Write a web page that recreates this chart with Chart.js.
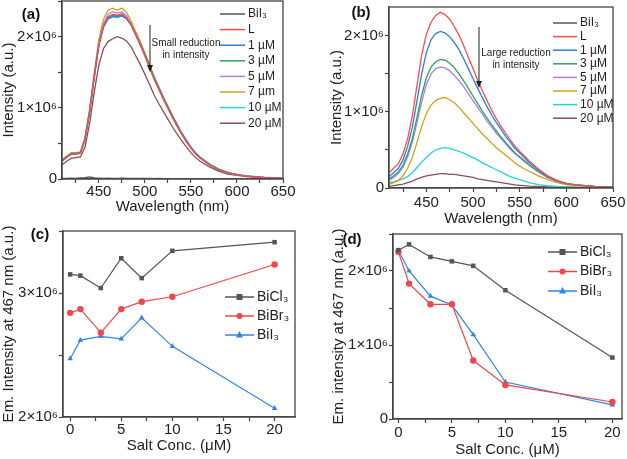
<!DOCTYPE html>
<html>
<head>
<meta charset="utf-8">
<script src="https://cdn.jsdelivr.net/npm/chart.js@4.4.1/dist/chart.umd.min.js"></script>
<style>
  body { margin: 0; background: #fff; }
  #wrap { position: relative; width: 627px; height: 459px; background: #fff; }
  canvas { position: absolute; }
</style>
</head>
<body>
<div id="wrap">
  <canvas id="chartA" width="310" height="216" style="left:0;top:0"></canvas>
  <canvas id="chartB" width="317" height="228" style="left:310px;top:0"></canvas>
  <canvas id="chartC" width="310" height="247" style="left:0;top:212px"></canvas>
  <canvas id="chartD" width="317" height="233" style="left:310px;top:226px"></canvas>
</div>
<script>
// ---- data (intensities in units of 10^6) ----
const wavelength = [410,415,420,425,430,435,440,445,450,455,460,465,470,475,480,485,490,495,500,505,510,515,520,525,530,535,540,545,550,555,560,570,580,590,600,610,620,630,640,650];

const labelsA = ['BiI₃', 'L', '1 µM', '3 µM', '5 µM', '7 µm', '10 µM', '20 µM'];
const labelsB = ['BiI₃', 'L', '1 µM', '3 µM', '5 µM', '7 µM', '10 µM', '20 µM'];
const spectraColors = ['#555555', '#ff4b4b', '#2e7de0', '#2ca25f', '#b27ee6', '#d4a017', '#22d3dd', '#8c4f4f'];

// (a) small reduction
const aBiI3 = [0.01,0.01,0.012,0.01,0.015,0.02,0.03,0.015,0.012,0.01,0.012,0.01,0.01,0.012,0.01,0.01,0.008,0.01,0.008,0.008,0.006,0.008,0.006,0.006,0.005,0.006,0.005,0.005,0.004,0.005,0.004,0.004,0.004,0.003,0.003,0.003,0.003,0.003,0.003,0.003];
const aL    = [0.25,0.30,0.35,0.35,0.36,0.55,0.93,1.42,1.88,2.15,2.28,2.31,2.30,2.32,2.27,2.17,2.03,1.89,1.73,1.57,1.40,1.26,1.12,0.99,0.86,0.74,0.63,0.52,0.43,0.35,0.29,0.20,0.13,0.085,0.06,0.04,0.03,0.02,0.015,0.01];
const a1    = [0.26,0.31,0.35,0.35,0.37,0.56,0.94,1.43,1.87,2.13,2.25,2.28,2.27,2.29,2.25,2.16,2.02,1.88,1.73,1.57,1.41,1.27,1.13,1.00,0.87,0.75,0.64,0.53,0.44,0.36,0.30,0.20,0.13,0.09,0.06,0.04,0.03,0.02,0.015,0.01];
const a3    = [0.26,0.31,0.36,0.36,0.37,0.57,0.95,1.44,1.89,2.15,2.27,2.30,2.29,2.30,2.26,2.17,2.04,1.90,1.75,1.59,1.42,1.28,1.14,1.01,0.88,0.76,0.64,0.54,0.44,0.36,0.30,0.21,0.14,0.09,0.06,0.04,0.03,0.02,0.015,0.01];
const a5    = [0.25,0.31,0.35,0.36,0.37,0.56,0.95,1.45,1.91,2.18,2.31,2.35,2.33,2.35,2.29,2.18,2.04,1.90,1.74,1.58,1.41,1.27,1.13,1.00,0.87,0.75,0.63,0.53,0.44,0.36,0.30,0.20,0.13,0.09,0.06,0.04,0.03,0.02,0.015,0.01];
const a7    = [0.27,0.32,0.37,0.37,0.38,0.58,0.98,1.49,1.96,2.24,2.37,2.40,2.37,2.40,2.34,2.22,2.07,1.93,1.77,1.61,1.44,1.29,1.15,1.02,0.89,0.76,0.65,0.54,0.45,0.37,0.30,0.21,0.14,0.09,0.06,0.04,0.03,0.02,0.015,0.01];
const a10   = [0.26,0.31,0.36,0.36,0.37,0.57,0.96,1.45,1.89,2.14,2.25,2.28,2.28,2.29,2.26,2.17,2.05,1.91,1.76,1.60,1.44,1.30,1.15,1.02,0.89,0.77,0.65,0.55,0.45,0.37,0.31,0.21,0.14,0.09,0.06,0.045,0.035,0.025,0.02,0.015];
const a20   = [0.20,0.25,0.29,0.30,0.31,0.45,0.78,1.22,1.60,1.83,1.93,1.97,2.00,1.98,1.94,1.86,1.73,1.61,1.47,1.33,1.18,1.06,0.95,0.84,0.73,0.63,0.54,0.45,0.37,0.30,0.25,0.17,0.11,0.07,0.05,0.035,0.025,0.02,0.015,0.01];

// (b) large reduction
const bBiI3 = [0.005,0.006,0.005,0.006,0.005,0.006,0.006,0.005,0.006,0.005,0.006,0.005,0.006,0.005,0.005,0.006,0.005,0.005,0.004,0.005,0.004,0.005,0.004,0.004,0.004,0.004,0.003,0.004,0.003,0.003,0.003,0.003,0.003,0.003,0.003,0.003,0.003,0.003,0.003,0.003];
const bL    = [0.20,0.26,0.32,0.45,0.65,0.95,1.35,1.75,2.02,2.18,2.27,2.31,2.28,2.22,2.12,2.01,1.87,1.72,1.57,1.42,1.28,1.15,1.02,0.91,0.81,0.72,0.63,0.55,0.48,0.42,0.36,0.25,0.16,0.10,0.06,0.04,0.03,0.02,0.015,0.01];
const b1    = [0.15,0.20,0.26,0.37,0.55,0.80,1.15,1.50,1.78,1.95,2.03,2.06,2.04,1.99,1.91,1.82,1.70,1.57,1.44,1.31,1.19,1.07,0.96,0.86,0.77,0.68,0.60,0.52,0.46,0.40,0.34,0.24,0.15,0.095,0.06,0.04,0.03,0.02,0.015,0.01];
const b3    = [0.12,0.16,0.21,0.30,0.45,0.65,0.93,1.22,1.45,1.59,1.66,1.69,1.68,1.64,1.58,1.50,1.41,1.31,1.21,1.11,1.01,0.92,0.83,0.75,0.67,0.60,0.53,0.46,0.41,0.36,0.31,0.22,0.14,0.09,0.055,0.04,0.03,0.02,0.015,0.01];
const b5    = [0.10,0.14,0.19,0.27,0.41,0.60,0.86,1.13,1.36,1.50,1.57,1.59,1.58,1.54,1.48,1.41,1.33,1.24,1.15,1.06,0.97,0.88,0.80,0.72,0.65,0.58,0.51,0.45,0.40,0.35,0.30,0.21,0.14,0.09,0.055,0.04,0.03,0.02,0.015,0.01];
const b7    = [0.05,0.07,0.10,0.16,0.26,0.40,0.60,0.81,0.98,1.09,1.15,1.18,1.19,1.16,1.12,1.06,0.99,0.92,0.85,0.78,0.71,0.65,0.59,0.53,0.48,0.43,0.38,0.33,0.29,0.25,0.22,0.16,0.11,0.07,0.045,0.03,0.02,0.015,0.01,0.01];
const b10   = [0.07,0.08,0.10,0.12,0.15,0.20,0.27,0.34,0.40,0.46,0.50,0.52,0.53,0.52,0.50,0.48,0.46,0.43,0.40,0.37,0.33,0.30,0.27,0.24,0.21,0.18,0.15,0.13,0.11,0.09,0.07,0.045,0.03,0.02,0.015,0.01,0.008,0.006,0.005,0.005];
const b20   = [0.02,0.03,0.04,0.05,0.07,0.09,0.12,0.14,0.16,0.17,0.18,0.19,0.19,0.18,0.18,0.17,0.16,0.15,0.14,0.12,0.11,0.10,0.09,0.08,0.07,0.06,0.05,0.04,0.035,0.03,0.025,0.02,0.015,0.01,0.01,0.008,0.006,0.005,0.005,0.005];

// (c), (d) intensity at 467 nm vs salt concentration
const saltConc = [0, 1, 3, 5, 7, 10, 20];
const saltLabels = ['BiCl₃', 'BiBr₃', 'BiI₃'];
const saltColors = ['#555555', '#f04848', '#2f86e8'];
const saltMarkers = ['rect', 'circle', 'triangle'];
const cBiCl3 = [3.15, 3.14, 3.04, 3.28, 3.12, 3.34, 3.41];
const cBiBr3 = [2.84, 2.87, 2.68, 2.87, 2.93, 2.97, 3.23];
const cBiI3  = [2.47, 2.62, 2.65, 2.63, 2.80, 2.57, 2.07];
const dBiCl3 = [2.28, 2.36, 2.19, 2.13, 2.07, 1.74, 0.83];
const dBiBr3 = [2.26, 1.83, 1.55, 1.55, 0.79, 0.46, 0.23];
const dBiI3  = [2.28, 2.00, 1.66, 1.54, 1.14, 0.50, 0.19];

Chart.defaults.font.family = '"Liberation Sans", Arial, sans-serif';
Chart.defaults.color = '#222';

function sci(v) { return v === 0 ? '0' : v + '×10⁶'; }

function axis(o) {
  return {
    type: 'linear', min: o.min, max: o.max,
    border: { display: true, color: '#444', width: 1.3 },
    grid: { drawOnChartArea: false, drawTicks: true, tickLength: 4, tickColor: '#444', tickWidth: 1.2 },
    ticks: {
      stepSize: o.step, includeBounds: false, autoSkip: false, maxRotation: 0,
      padding: o.pad, color: '#222', font: { size: 15 },
      callback: o.label
    },
    title: { display: true, text: o.title, color: '#222', font: { size: 15 }, padding: o.titlePad },
    afterFit: s => {
      // fixed axis band, no extra room for overhanging labels
      if (s.isHorizontal()) { s.height = o.size; s.paddingLeft = 0; s.paddingRight = 0; }
      else { s.width = o.size; s.paddingTop = 0; s.paddingBottom = 0; }
    }
  };
}

// frame, panel tag, note with arrow and in-plot legend
const panelDeco = {
  id: 'panelDeco',
  afterDraw(chart, args, o) {
    const ctx = chart.ctx, a = chart.chartArea;
    ctx.save();
    ctx.strokeStyle = '#444';
    ctx.lineWidth = 1.3;
    ctx.strokeRect(a.left, a.top, a.right - a.left, a.bottom - a.top);

    ctx.fillStyle = '#111';
    ctx.textBaseline = 'middle';
    ctx.textAlign = 'center';
    ctx.font = 'bold 15px "Liberation Sans", Arial, sans-serif';
    ctx.fillText(o.tag[0], o.tag[1], o.tag[2]);

    if (o.note) {
      ctx.font = '10px "Liberation Sans", Arial, sans-serif';
      ctx.fillStyle = '#222';
      o.note.lines.forEach((t, i) => ctx.fillText(t, o.note.x, o.note.y + i * 12.5));
      const [ax, y1, y2] = o.note.arrow;
      ctx.strokeStyle = '#222';
      ctx.lineWidth = 1;
      ctx.beginPath(); ctx.moveTo(ax, y1); ctx.lineTo(ax, y2 - 5); ctx.stroke();
      ctx.beginPath(); ctx.moveTo(ax - 3, y2 - 7); ctx.lineTo(ax + 3, y2 - 7); ctx.lineTo(ax, y2); ctx.closePath(); ctx.fill();
    }

    const lg = o.legend;
    ctx.font = lg.font + 'px "Liberation Sans", Arial, sans-serif';
    ctx.textAlign = 'left';
    chart.data.datasets.forEach((ds, i) => {
      const y = lg.y + i * lg.dy;
      ctx.strokeStyle = ds.borderColor;
      ctx.lineWidth = 1.5;
      ctx.beginPath(); ctx.moveTo(lg.x, y); ctx.lineTo(lg.x + lg.len, y); ctx.stroke();
      if (lg.marker) {
        const mx = lg.x + lg.len / 2, r = 3;
        ctx.fillStyle = ds.borderColor;
        ctx.beginPath();
        if (ds.pointStyle === 'rect') ctx.rect(mx - r, y - r, 2 * r, 2 * r);
        else if (ds.pointStyle === 'circle') ctx.arc(mx, y, r, 0, Math.PI * 2);
        else { ctx.moveTo(mx, y - r - 1); ctx.lineTo(mx + r + 0.5, y + r - 0.5); ctx.lineTo(mx - r - 0.5, y + r - 0.5); ctx.closePath(); }
        ctx.fill();
      }
      ctx.fillStyle = '#222';
      ctx.fillText(ds.label, lg.x + lg.len + 3, y);
    });
    ctx.restore();
  }
};

function spectraSets(labels, series) {
  return series.map((vals, i) => ({
    label: labels[i],
    data: wavelength.map((w, j) => ({ x: w, y: vals[j] })),
    borderColor: spectraColors[i],
    borderWidth: 1.3,
    pointRadius: 0,
    tension: 0
  }));
}

function saltSets(series) {
  return series.map((vals, i) => ({
    label: saltLabels[i],
    data: saltConc.map((c, j) => ({ x: c, y: vals[j] })),
    borderColor: saltColors[i],
    backgroundColor: saltColors[i],
    borderWidth: 1.2,
    pointStyle: saltMarkers[i],
    pointRadius: 3.2,
    pointBorderWidth: 0,
    tension: 0
  }));
}

const xWave = (size, pad) => axis({ min: 410, max: 650, step: 25, pad: pad, size: size, title: 'Wavelength (nm)', titlePad: { top: 0, bottom: 0 },
  label: v => v % 50 === 0 ? v : '' });
const xSalt = (min, max, size, pad, tpad) => axis({ min: min, max: max, step: 2.5, pad: pad, size: size, title: 'Salt Conc. (μM)', titlePad: { top: 0, bottom: tpad },
  label: v => v % 5 === 0 ? v : '' });
const yInt = (min, max, size, title, tpad) => axis({ min: min, max: max, step: 0.5, pad: 1, size: size, title: title, titlePad: { top: tpad, bottom: 0 },
  label: v => Number.isInteger(v) ? sci(v) : '' });

function makeChart(id, datasets, x, y, padding, deco) {
  return new Chart(document.getElementById(id), {
    type: 'line',
    data: { datasets: datasets },
    options: {
      responsive: false, animation: false,
      layout: { padding: padding },
      plugins: { legend: { display: false }, tooltip: { enabled: false }, panelDeco: deco },
      scales: { x: x, y: y }
    },
    plugins: [panelDeco]
  });
}

makeChart('chartA', spectraSets(labelsA, [aBiI3, aL, a1, a3, a5, a7, a10, a20]),
  xWave(37, 0), yInt(0, 2.5, 62, 'Intensity (a.u.)', 0),
  { top: 1, right: 27, left: 0, bottom: 0 },
  { tag: ['(a)', 31, 15],
    note: { lines: ['Small reduction', 'in intensity'], x: 186, y: 43, arrow: [150, 25, 72] },
    legend: { x: 220, y: 14, dy: 15.6, len: 25, font: 12 } });

makeChart('chartB', spectraSets(labelsB, [bBiI3, bL, b1, b3, b5, b7, b10, b20]),
  xWave(40, 2), yInt(0, 2.38, 79, 'Intensity (a.u.)', 18),
  { top: 7, right: 14, left: 0, bottom: 0 },
  { tag: ['(b)', 51, 13],
    note: { lines: ['Large reduction', 'in intensity'], x: 206, y: 53, arrow: [169, 27, 88] },
    legend: { x: 243, y: 23, dy: 13.6, len: 24, font: 12 } });

makeChart('chartC', saltSets([cBiCl3, cBiBr3, cBiI3]),
  xSalt(-0.7, 22, 42, 0, 4), yInt(2, 3.5, 63, 'Em. Intensity at 467 nm (a.u.)', 0),
  { top: 19, right: 15, left: 0, bottom: 0 },
  { tag: ['(c)', 40, 23],
    legend: { x: 225, y: 85, dy: 19, len: 29, font: 14, marker: true } });

makeChart('chartD', saltSets([dBiCl3, dBiBr3, dBiI3]),
  xSalt(-0.5, 20.9, 40, 1, 0), yInt(0, 2.5, 83, 'Em. intensity at 467 nm (a.u.)', 20),
  { top: 8, right: 5, left: 0, bottom: 0 },
  { tag: ['(d)', 42, 14],
    legend: { x: 238, y: 26, dy: 19.5, len: 29, font: 14, marker: true } });
</script>
</body>
</html>
